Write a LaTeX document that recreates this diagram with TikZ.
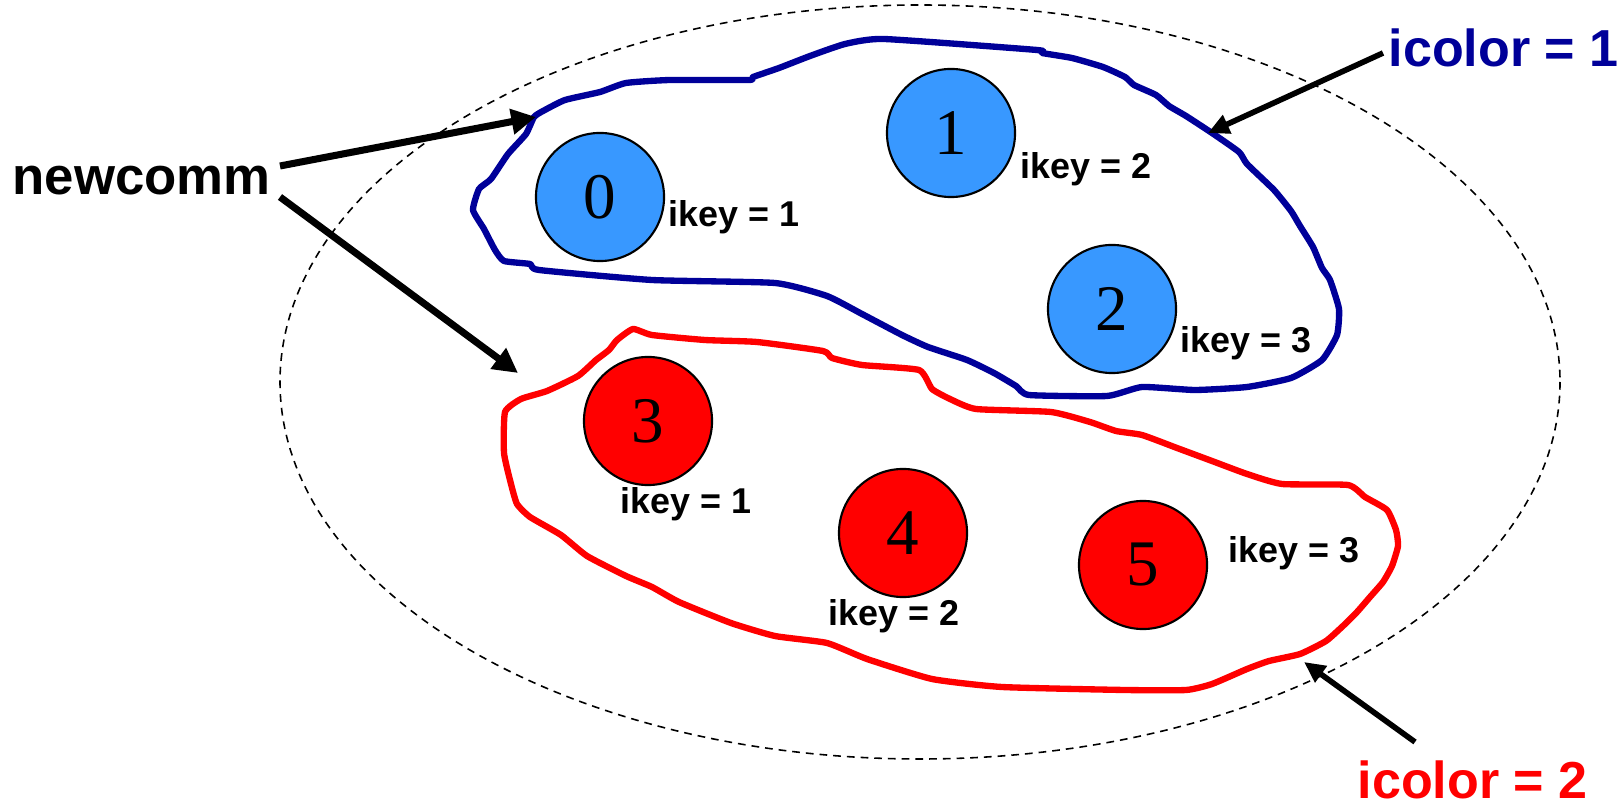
\documentclass[tikz,border=0pt]{standalone}
\usepackage{fontspec}
\setmainfont{Liberation Serif}
\newfontfamily\arialf{Liberation Sans}
\usetikzlibrary{arrows.meta}
\definecolor{navy}{RGB}{0,0,153}
\definecolor{pblue}{RGB}{56,152,255}
\definecolor{pred}{RGB}{255,0,0}
\begin{document}
\begin{tikzpicture}[x=0.01cm,y=-0.01cm,
  proc/.style={circle,draw=black,line width=0.6pt,minimum size=1.28cm,inner sep=0pt,font=\fontsize{18.5}{20}\selectfont},
  bproc/.style={proc,fill=pblue},
  rproc/.style={proc,fill=pred},
  keylbl/.style={font=\arialf\bfseries\fontsize{10.2}{12}\selectfont,anchor=base west,inner sep=0pt},
  biglbl/.style={font=\arialf\bfseries\fontsize{15}{17}\selectfont,anchor=base west,inner sep=0pt},
  fatarrow/.style={line width=2pt,-{Triangle[length=7pt,width=7pt]}},
  thinarrow/.style={line width=1.6pt,-{Triangle[length=6pt,width=5.5pt]}},
  group/.style={line width=1.8pt,line join=round}
]
\useasboundingbox (0,0) rectangle (1622,807);

% outer dashed ellipse
\draw[dash pattern=on 2.2pt off 1.7pt, line width=0.45pt] (920,382) ellipse [x radius=640, y radius=377];

% blue group contour
\draw[group,navy] plot[smooth cycle,tension=0.3] coordinates {
(534,117) (543,111) (565,100) (600,92) (626,83) (670,80) (749,80) (753,77) (779,68) (810,56) (845,44) (884,39) (1037,50) (1042,53) (1072,58) (1103,67) (1125,77) (1134,85) (1156,95) (1169,106) (1186,116) (1212,133) (1239,152) (1247,164) (1274,190) (1291,211) (1300,226) (1313,247) (1322,268) (1330,280) (1339,309) (1337,335) (1322,360) (1291,378) (1247,387) (1195,390) (1142,387) (1107,396) (1029,395) (1016,386) (994,373) (967,360) (928,347) (902,335) (862,314) (827,296) (775,283) (652,280) (539,270) (530,264) (504,261) (495,250) (484,229) (473,210) (479,189) (491,179) (508,154) (526,134)};

% red group contour
\draw[group,pred] plot[smooth cycle,tension=0.3] coordinates {
(633,329) (652,335) (705,340) (757,342) (823,351) (832,358) (862,365) (919,370) (932,389) (950,399) (976,409) (1051,412) (1090,422) (1116,431) (1142,435) (1177,448) (1212,461) (1247,474) (1282,484) (1348,485) (1365,497) (1387,510) (1396,530) (1398,546) (1392,566) (1383,582) (1370,597) (1357,612) (1344,625) (1326,641) (1300,654) (1269,661) (1247,669) (1212,684) (1186,690) (1125,690) (1002,687) (932,679) (867,659) (827,643) (775,636) (731,623) (679,602) (652,587) (626,576) (587,556) (561,535) (530,517) (517,504) (511,484) (504,453) (505,412) (521,399) (547,391) (578,376) (596,360) (609,350) (617,340)};

% processes
\node[bproc] (p0) at (600,197) {0};
\node[bproc] (p1) at (951,133) {1};
\node[bproc] (p2) at (1112,309) {2};
\node[rproc] (p3) at (648,421) {3};
\node[rproc] (p4) at (903,533) {4};
\node[rproc] (p5) at (1143,565) {5};

% key labels
\node[keylbl] (k0) at (668,227) {ikey = 1};
\node[keylbl] (k1) at (1020,179) {ikey = 2};
\node[keylbl] (k2) at (1180,353) {ikey = 3};
\node[keylbl] (k3) at (620,514) {ikey = 1};
\node[keylbl] (k4) at (828,625) {ikey = 2};
\node[keylbl] (k5) at (1228,562) {ikey = 3};

% big labels
\node[biglbl] (nc) at (12,195) {newcomm};
\node[biglbl,text=navy,font=\arialf\bfseries\fontsize{14.8}{17}\selectfont] (ic1) at (1388,67) {icolor = 1};
\node[biglbl,text=pred,font=\arialf\bfseries\fontsize{14.8}{17}\selectfont] (ic2) at (1357,798) {icolor = 2};

% arrow end points
\coordinate (ncA) at (280,166);
\coordinate (ncB) at (280,197);
\coordinate (tA) at (536,117);
\coordinate (tB) at (518,373);
\coordinate (ic1s) at (1383,53);
\coordinate (ic1t) at (1208,133);
\coordinate (ic2s) at (1415,742);
\coordinate (ic2t) at (1304,662);

\draw[fatarrow] (ncA) -- (tA);
\draw[fatarrow] (ncB) -- (tB);
\draw[thinarrow] (ic1s) -- (ic1t);
\draw[thinarrow] (ic2s) -- (ic2t);
\end{tikzpicture}
\end{document}
